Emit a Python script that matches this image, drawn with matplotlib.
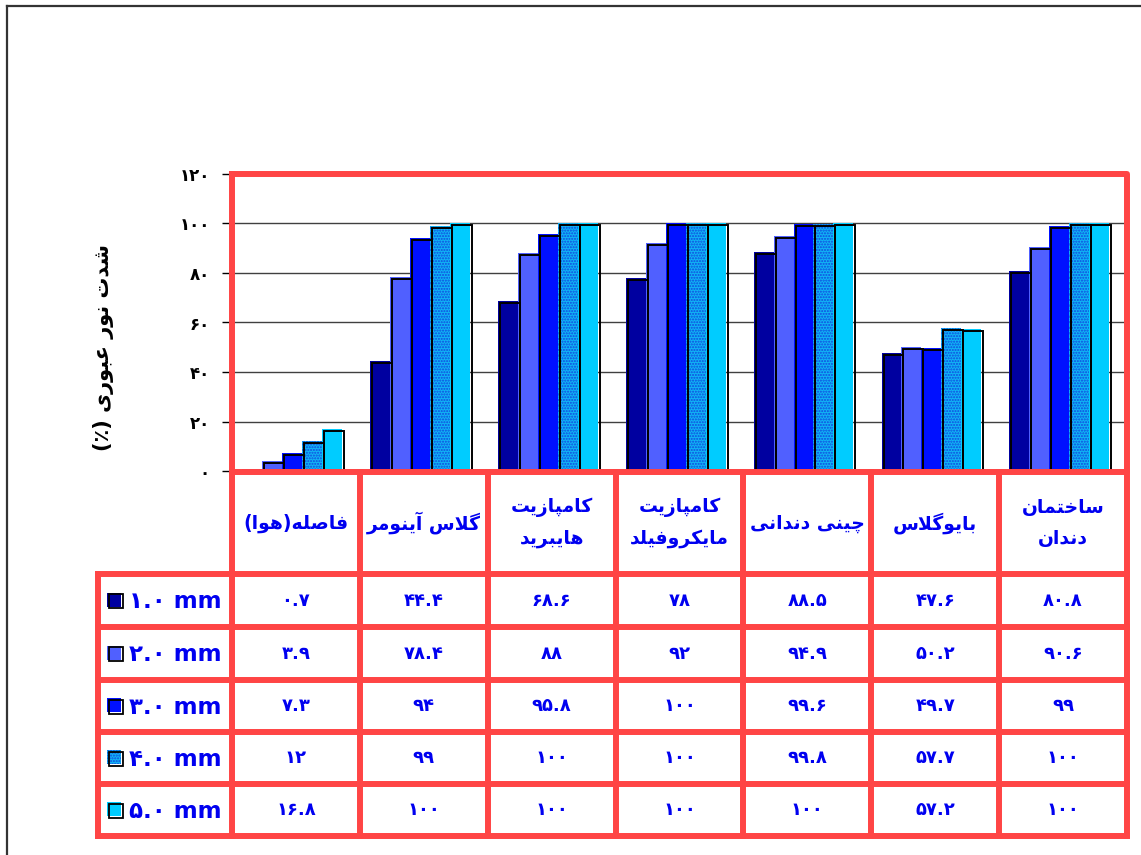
import unicodedata
import matplotlib
matplotlib.use('Agg')
import matplotlib.pyplot as plt
import matplotlib.transforms as mtransforms
from matplotlib.patches import Rectangle
import numpy as np

# data
categories = ['فاصله(هوا)', 'گلاس آینومر', 'کامپازیت\nهایبرید', 'کامپازیت\nمایکروفیلد',
              'چینی دندانی', 'بایوگلاس', 'ساختمان\nدندان']
series_labels = ['1.0 mm', '2.0 mm', '3.0 mm', '4.0 mm', '5.0 mm']
mm_1 = [0.7, 44.4, 68.6, 78, 88.5, 47.6, 80.8]
mm_2 = [3.9, 78.4, 88, 92, 94.9, 50.2, 90.6]
mm_3 = [7.3, 94, 95.8, 100, 99.6, 49.7, 99]
mm_4 = [12, 99, 100, 100, 99.8, 57.7, 100]
mm_5 = [16.8, 100, 100, 100, 100, 57.2, 100]
series = [mm_1, mm_2, mm_3, mm_4, mm_5]
yticks = [0, 20, 40, 60, 80, 100, 120]
ylabel = 'شدت نور عبوری (٪)'

colors = ['#0000A0', '#5060FF', '#0010FF', '#10B4F4', '#00CCFF']
HATCH = '#1048E0'
RED = '#FF4545'
BLUE = '#0000F0'

plt.rcParams['font.family'] = ['DejaVu Sans']

FA_DIGITS = str.maketrans('0123456789', '۰۱۲۳۴۵۶۷۸۹')


def fa(s):
    return str(s).translate(FA_DIGITS)


# matplotlib has no arabic shaping, so pick the presentation forms by hand
RIGHT_ONLY = set('اآأإدذرزژوؤة')


def is_letter(c):
    return '\u0620' <= c <= '\u06ff' and unicodedata.category(c) == 'Lo'


def joins_next(c):
    return is_letter(c) and c not in RIGHT_ONLY


def shape_line(s):
    out = []
    i, n = 0, len(s)
    while i < n:
        c = s[i]
        if not is_letter(c):
            out.append(c)
            i += 1
            continue
        jp = i > 0 and joins_next(s[i - 1])
        if c == 'ل' and i + 1 < n and s[i + 1] in 'اآ':
            base = 'ARABIC LIGATURE LAM WITH ALEF'
            if s[i + 1] == 'آ':
                base += ' WITH MADDA ABOVE'
            out.append(unicodedata.lookup(base + (' FINAL FORM' if jp else ' ISOLATED FORM')))
            i += 2
            continue
        jn = joins_next(c) and i + 1 < n and is_letter(s[i + 1])
        form = {(True, True): 'MEDIAL', (True, False): 'FINAL',
                (False, True): 'INITIAL', (False, False): 'ISOLATED'}[(jp, jn)]
        try:
            out.append(unicodedata.lookup(f'{unicodedata.name(c)} {form} FORM'))
        except KeyError:
            out.append(c)
        i += 1
    vis = ''.join(reversed(out))
    return vis.translate(str.maketrans('()', ')('))


def shape(s):
    return '\n'.join(shape_line(l) for l in s.split('\n'))


W, H = 1141, 855
X0, X1 = 232, 1127
Y_TOP, Y_ZERO = 174, 471
row_y = [472, 574, 627, 680, 732, 784, 836]
LEG_X = 98

fig = plt.figure(figsize=(W / 100, H / 100), dpi=100)
ax = fig.add_axes([X0 / W, 1 - Y_ZERO / H, (X1 - X0) / W, (Y_ZERO - Y_TOP) / H])

x = np.arange(len(categories))
bw = 0.156
shadow = mtransforms.offset_copy(ax.transData, fig=fig, x=2, y=-2, units='dots')
for j, vals in enumerate(series):
    pos = x + (j - 2) * bw - 0.03
    ax.bar(pos, vals, bw, color=colors[j], linewidth=0, zorder=2)
    if j == 3:
        ax.bar(pos, vals, bw, color='none', edgecolor=HATCH, hatch='......',
               linewidth=0, zorder=2)
    ax.bar(pos, vals, bw, fill=False, edgecolor='black', linewidth=1.4,
           transform=shadow, zorder=3)

ax.set_xlim(-0.5, len(categories) - 0.5)
ax.set_ylim(0, 120)
ax.set_yticks(yticks)
ax.set_yticklabels([fa(t) for t in yticks], fontsize=12, fontweight='bold')
ax.set_xticks([])
ax.yaxis.grid(True, color='#404040', linewidth=1)
ax.set_axisbelow(True)
ax.tick_params(axis='y', length=7, width=1, pad=9)
for s in ['top', 'right', 'bottom']:
    ax.spines[s].set_visible(False)
ax.spines['left'].set_linewidth(1.2)

# overlay in pixel coords for the red frame and the data table
ov = fig.add_axes([0, 0, 1, 1], zorder=5)
ov.set_xlim(0, W)
ov.set_ylim(H, 0)
ov.axis('off')

lw = 4.3
col_x = np.linspace(X0, X1, len(categories) + 1)
ov.plot([X0, X1, X1, X0, X0], [Y_TOP, Y_TOP, row_y[0], row_y[0], Y_TOP],
        color=RED, lw=lw, solid_capstyle='projecting')
for cx in col_x:
    ov.plot([cx, cx], [row_y[0], row_y[-1]], color=RED, lw=lw, solid_capstyle='projecting')
ov.plot([LEG_X, LEG_X], [row_y[1], row_y[-1]], color=RED, lw=lw, solid_capstyle='projecting')
for ry in row_y[1:]:
    ov.plot([LEG_X, X1], [ry, ry], color=RED, lw=lw, solid_capstyle='projecting')

# outer frame (cut at right and bottom)
ov.plot([7, 7], [H, 6], color='#333333', lw=1.6)
ov.plot([7, W], [6, 6], color='#333333', lw=1.6)

centers = (col_x[:-1] + col_x[1:]) / 2
hy = (row_y[0] + row_y[1]) / 2
for cx, cat in zip(centers, categories):
    ov.text(cx, hy, shape(cat), ha='center', va='center', fontsize=13.5,
            fontweight='bold', color=BLUE, linespacing=1.75)

for j, vals in enumerate(series):
    ry = (row_y[j + 1] + row_y[j + 2]) / 2
    ov.add_patch(Rectangle((107, ry - 8), 14, 14, facecolor=colors[j], edgecolor='none'))
    if j == 3:
        ov.add_patch(Rectangle((107, ry - 8), 14, 14, facecolor='none', edgecolor=HATCH,
                               hatch='......', linewidth=0))
    ov.add_patch(Rectangle((108.5, ry - 6.5), 14, 14, fill=False, edgecolor='black', linewidth=1.3))
    ov.text(129, ry + 1, fa(series_labels[j]), ha='left', va='center', fontsize=16.5,
            fontweight='bold', color=BLUE)
    for cx, v in zip(centers, vals):
        ov.text(cx, ry, fa(f'{v:g}'), ha='center', va='center', fontsize=13,
                fontweight='bold', color=BLUE)

fig.text(103 / W, 1 - 347 / H, shape(ylabel), rotation=90, ha='center', va='center',
         fontsize=15, fontweight='bold')

fig.savefig('out.png', dpi=100)
